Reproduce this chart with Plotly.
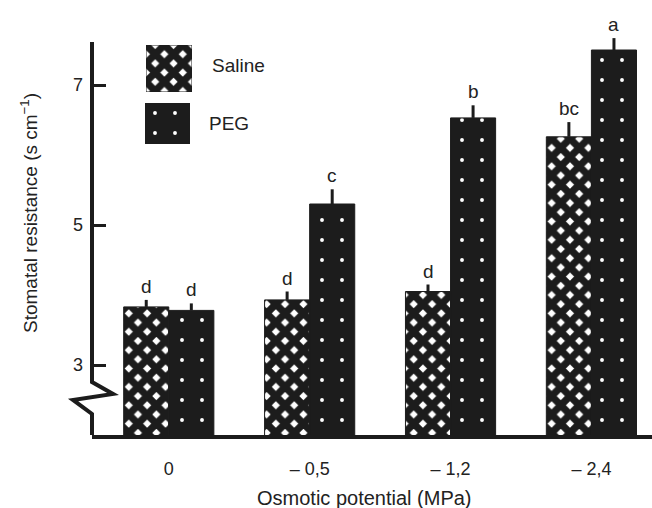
import plotly.graph_objects as go

# ---- data ----
categories = ["0", "– 0,5", "– 1,2", "– 2,4"]
saline = [3.83, 3.93, 4.05, 6.26]
saline_err = [0.10, 0.12, 0.10, 0.21]
peg = [3.78, 5.30, 6.53, 7.50]
peg_err = [0.10, 0.21, 0.18, 0.17]
saline_letters = ["d", "d", "d", "bc"]
peg_letters = ["d", "c", "b", "a"]
y_ticks = [3, 5, 7]

INK = "#1c1c1c"
FONT = "Liberation Sans, Arial, Helvetica, sans-serif"

# plot-area geometry in pixels (for decorations)
W, H = 652, 508
L, R, T, B = 92, 0, 10, 73
PW, PH = W - L - R, H - T - B
PX_PER_UNIT = 70.0
Y0 = 2.0
Y1 = Y0 + PH / PX_PER_UNIT


def px(x):
    return (x - L) / PW


def py(y):
    return (H - B - y) / PH


xs = list(range(len(categories)))
BARGAP = 0.36
half = (1 - BARGAP) / 4

saline_pattern = dict(shape="x", fgcolor=INK, bgcolor="white", size=13, solidity=0.8, fillmode="replace")
peg_pattern = dict(shape=".", fgcolor="white", bgcolor=INK, size=20, solidity=0.03, fillmode="replace")

fig = go.Figure()
fig.add_trace(go.Bar(
    x=xs, y=saline, name="Saline",
    marker=dict(color="white", pattern=saline_pattern, line=dict(color=INK, width=1)),
    error_y=dict(type="data", array=saline_err, arrayminus=[0] * 4, symmetric=False,
                 width=0, thickness=3, color=INK),
    showlegend=False,
))
fig.add_trace(go.Bar(
    x=xs, y=peg, name="PEG",
    marker=dict(color=INK, pattern=peg_pattern, line=dict(color=INK, width=1)),
    error_y=dict(type="data", array=peg_err, arrayminus=[0] * 4, symmetric=False,
                 width=0, thickness=3, color=INK),
    showlegend=False,
))

# inset legend swatches (one small hidden subplot each)
fig.add_trace(go.Bar(
    x=[0.5], y=[1], width=[1], xaxis="x2", yaxis="y2", showlegend=False, hoverinfo="skip",
    marker=dict(color="white", pattern=saline_pattern, line=dict(color=INK, width=1)),
))
fig.add_trace(go.Bar(
    x=[0.5], y=[1], width=[1], xaxis="x3", yaxis="y3", showlegend=False, hoverinfo="skip",
    marker=dict(color=INK, pattern=peg_pattern, line=dict(color=INK, width=1)),
))

annotations = []
for i in xs:
    annotations.append(dict(x=i - half, y=saline[i] + saline_err[i], xref="x", yref="y",
                            text=saline_letters[i], showarrow=False, yanchor="bottom", yshift=1,
                            font=dict(size=19)))
    annotations.append(dict(x=i + half, y=peg[i] + peg_err[i], xref="x", yref="y",
                            text=peg_letters[i], showarrow=False, yanchor="bottom", yshift=1,
                            font=dict(size=19)))

annotations += [
    dict(x=px(210), y=py(66), xref="paper", yref="paper", text="Saline", showarrow=False,
         xanchor="left", yanchor="middle", font=dict(size=19)),
    dict(x=px(207), y=py(124), xref="paper", yref="paper", text="PEG", showarrow=False,
         xanchor="left", yanchor="middle", font=dict(size=19)),
    dict(x=px(364), y=py(498), xref="paper", yref="paper", text="Osmotic potential (MPa)",
         showarrow=False, xanchor="center", yanchor="middle", font=dict(size=20)),
    dict(x=px(29), y=py(213), xref="paper", yref="paper",
         text="Stomatal resistance (s cm<sup>−1</sup>)", textangle=-90,
         showarrow=False, xanchor="center", yanchor="middle", font=dict(size=19)),
]

# y-axis line with a break
pts = [(92, 42), (92, 382), (113, 394), (73, 400), (92, 414), (92, 435)]
path = "M " + " L ".join(f"{px(a):.4f},{py(b):.4f}" for a, b in pts)
shapes = [dict(type="path", path=path, xref="paper", yref="paper",
               line=dict(color=INK, width=4))]

fig.update_layout(
    width=W, height=H,
    margin=dict(l=L, r=R, t=T, b=B, pad=0),
    paper_bgcolor="white", plot_bgcolor="white",
    barmode="group", bargap=BARGAP, bargroupgap=0,
    font=dict(family=FONT, size=18, color="#222"),
    xaxis=dict(
        range=[-0.545, 3.43], tickvals=xs, ticktext=categories,
        showgrid=False, zeroline=False, ticks="",
        showline=True, linecolor=INK, linewidth=4,
        ticklabelstandoff=14,
    ),
    yaxis=dict(
        range=[Y0, Y1], tickvals=y_ticks, ticktext=[str(v) for v in y_ticks],
        showgrid=False, zeroline=False, showline=False,
        ticks="inside", ticklen=14, tickwidth=3, tickcolor=INK,
        ticklabelstandoff=8,
    ),
    xaxis2=dict(domain=[px(146), px(192)], range=[0, 1], anchor="y2", visible=False),
    yaxis2=dict(domain=[py(92), py(45)], range=[0, 1], anchor="x2", visible=False),
    xaxis3=dict(domain=[px(145), px(190)], range=[0, 1], anchor="y3", visible=False),
    yaxis3=dict(domain=[py(144), py(103)], range=[0, 1], anchor="x3", visible=False),
    annotations=annotations,
    shapes=shapes,
)

fig.write_html("out.html", config={"displayModeBar": False},
               post_script="document.body.style.margin='0';")
